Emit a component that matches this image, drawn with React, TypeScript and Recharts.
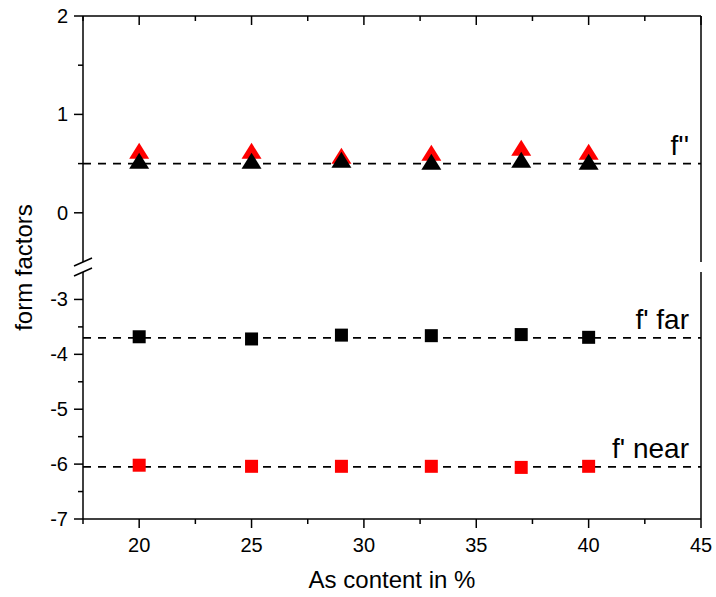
import React from "react";
import { ScatterChart, Scatter, XAxis, YAxis, ReferenceLine } from "recharts";

// As content (%) of each sample
const asContent = [20, 25, 29, 33, 37, 40];

// f'' (triangles), red and black sets
const fppRed = [0.63, 0.63, 0.58, 0.61, 0.66, 0.62];
const fppBlack = [0.53, 0.53, 0.54, 0.52, 0.54, 0.52];

// f' far (black squares) and f' near (red squares)
const fpFar = [-3.68, -3.72, -3.65, -3.66, -3.64, -3.69];
const fpNear = [-6.02, -6.04, -6.04, -6.04, -6.06, -6.04];

// dashed reference levels
const fppLevel = 0.5;
const farLevel = -3.7;
const nearLevel = -6.05;

// axis ticks
const xTicks = [17.5, 20, 22.5, 25, 27.5, 30, 32.5, 35, 37.5, 40, 42.5, 45];
const xMajor = [20, 25, 30, 35, 40, 45];
const upperTicks = [-0.5, 0, 0.5, 1, 1.5, 2];
const upperMajor = [0, 1, 2];
const lowerTicks = [-7, -6.5, -6, -5.5, -5, -4.5, -4, -3.5, -3, -2.5];
const lowerMajor = [-7, -6, -5, -4, -3];

const W = 716;
const H = 597;
const PLOT_LEFT = 83;
const PLOT_RIGHT = 701;
const UPPER_TOP = 16;
const UPPER_BOTTOM = 262;
const LOWER_TOP = 272;
const LOWER_BOTTOM = 519;
const FONT = '"Liberation Sans", Arial, sans-serif';

const toPoints = (ys: number[]) => asContent.map((x, i) => ({ x, y: ys[i] }));

type Side = "left" | "right" | "top" | "bottom";

function makeTick(side: Side, majors: number[], labels: boolean, breakAt?: number) {
  return function Tick(props: any) {
    const { x, y, payload } = props;
    const v = payload.value;
    if (breakAt !== undefined && v === breakAt) {
      return <line x1={x - 9} y1={y + 4} x2={x + 9} y2={y - 4} stroke="#000" strokeWidth={1.5} />;
    }
    const major = majors.includes(v);
    const len = major ? 9 : 5;
    let x2 = x;
    let y2 = y;
    if (side === "left") x2 = x - len;
    if (side === "right") x2 = x - len;
    if (side === "top") y2 = y + len;
    if (side === "bottom") y2 = y + len;
    return (
      <g>
        <line x1={x} y1={y} x2={x2} y2={y2} stroke="#000" strokeWidth={1.5} />
        {labels && major && side === "left" && (
          <text x={x - 15} y={y + 7} textAnchor="end" fontSize={20} fontFamily={FONT} fill="#000">
            {v}
          </text>
        )}
        {labels && major && side === "bottom" && (
          <text x={x} y={y + 33} textAnchor="middle" fontSize={20} fontFamily={FONT} fill="#000">
            {v}
          </text>
        )}
      </g>
    );
  };
}

const Triangle = (color: string) => (p: any) =>
  <path d={`M${p.cx},${p.cy - 8}L${p.cx - 10},${p.cy + 8}L${p.cx + 10},${p.cy + 8}Z`} fill={color} />;

const Square = (color: string) => (p: any) =>
  <rect x={p.cx - 6.5} y={p.cy - 6.5} width={13} height={13} fill={color} />;

const yTitle = (p: any) => {
  const cx = 23;
  const cy = (UPPER_TOP + LOWER_BOTTOM) / 2;
  return (
    <text x={cx} y={cy} transform={`rotate(-90, ${cx}, ${cy})`} textAnchor="middle"
      dominantBaseline="central" fontSize={24} fontFamily={FONT} fill="#000">
      {p.value}
    </text>
  );
};

const axisLine = { stroke: "#000", strokeWidth: 1.5 };
const dash = { stroke: "#000", strokeDasharray: "8 7", strokeWidth: 1.6 };
const note = (value: string) => ({
  value, position: "insideBottomRight" as const, offset: 12, dy: 3,
  fontSize: 28, fontFamily: FONT, fill: "#000",
});

export default function App() {
  return (
    <div style={{ position: "absolute", left: 0, top: 0, width: W, height: H, background: "#fff" }}>
      {/* upper segment: -0.5 .. 2 */}
      <div style={{ position: "absolute", left: 0, top: 0 }}>
        <ScatterChart width={W} height={H}
          margin={{ top: 0, right: 0, bottom: H - UPPER_BOTTOM, left: 0 }}>
          <XAxis xAxisId="top" orientation="top" dataKey="x" type="number" domain={[17.5, 45]}
            ticks={xTicks} interval={0} height={UPPER_TOP} tickSize={0} tickMargin={0}
            axisLine={axisLine} tickLine={false} tick={makeTick("top", xMajor, false)} />
          <YAxis yAxisId="left" dataKey="y" type="number" domain={[-0.5, 2]} ticks={upperTicks}
            interval={0} width={PLOT_LEFT} tickSize={0} tickMargin={0} axisLine={axisLine}
            tickLine={false} tick={makeTick("left", upperMajor, true, -0.5)} />
          <YAxis yAxisId="right" orientation="right" type="number" domain={[-0.5, 2]}
            ticks={upperTicks} interval={0} width={W - PLOT_RIGHT} tickSize={0} tickMargin={0}
            axisLine={axisLine} tickLine={false} tick={makeTick("right", upperMajor, false, -0.5)} />
          <Scatter xAxisId="top" yAxisId="left" data={toPoints(fppRed)}
            shape={Triangle("#ff0000")} isAnimationActive={false} />
          <Scatter xAxisId="top" yAxisId="left" data={toPoints(fppBlack)}
            shape={Triangle("#000000")} isAnimationActive={false} />
          <ReferenceLine xAxisId="top" yAxisId="left" y={fppLevel} {...dash} label={note("f''")} />
        </ScatterChart>
      </div>
      {/* lower segment: -7 .. -2.5 */}
      <div style={{ position: "absolute", left: 0, top: 0 }}>
        <ScatterChart width={W} height={H}
          margin={{ top: LOWER_TOP, right: 0, bottom: 0, left: 0 }}>
          <XAxis xAxisId="bottom" dataKey="x" type="number" domain={[17.5, 45]} ticks={xTicks}
            interval={0} height={H - LOWER_BOTTOM} tickSize={0} tickMargin={0}
            axisLine={axisLine} tickLine={false} tick={makeTick("bottom", xMajor, true)}
            label={{ value: "As content in %", position: "insideBottom", offset: 9,
              fontSize: 24, fontFamily: FONT, fill: "#000" }} />
          <YAxis yAxisId="left" dataKey="y" type="number" domain={[-7, -2.5]} ticks={lowerTicks}
            interval={0} width={PLOT_LEFT} tickSize={0} tickMargin={0} axisLine={axisLine}
            tickLine={false} tick={makeTick("left", lowerMajor, true, -2.5)}
            label={{ value: "form factors", content: yTitle }} />
          <YAxis yAxisId="right" orientation="right" type="number" domain={[-7, -2.5]}
            ticks={lowerTicks} interval={0} width={W - PLOT_RIGHT} tickSize={0} tickMargin={0}
            axisLine={axisLine} tickLine={false} tick={makeTick("right", lowerMajor, false, -2.5)} />
          <Scatter xAxisId="bottom" yAxisId="left" data={toPoints(fpFar)}
            shape={Square("#000000")} isAnimationActive={false} />
          <Scatter xAxisId="bottom" yAxisId="left" data={toPoints(fpNear)}
            shape={Square("#ff0000")} isAnimationActive={false} />
          <ReferenceLine xAxisId="bottom" yAxisId="left" y={farLevel} {...dash} label={note("f' far")} />
          <ReferenceLine xAxisId="bottom" yAxisId="left" y={nearLevel} {...dash} label={note("f' near")} />
        </ScatterChart>
      </div>
    </div>
  );
}
